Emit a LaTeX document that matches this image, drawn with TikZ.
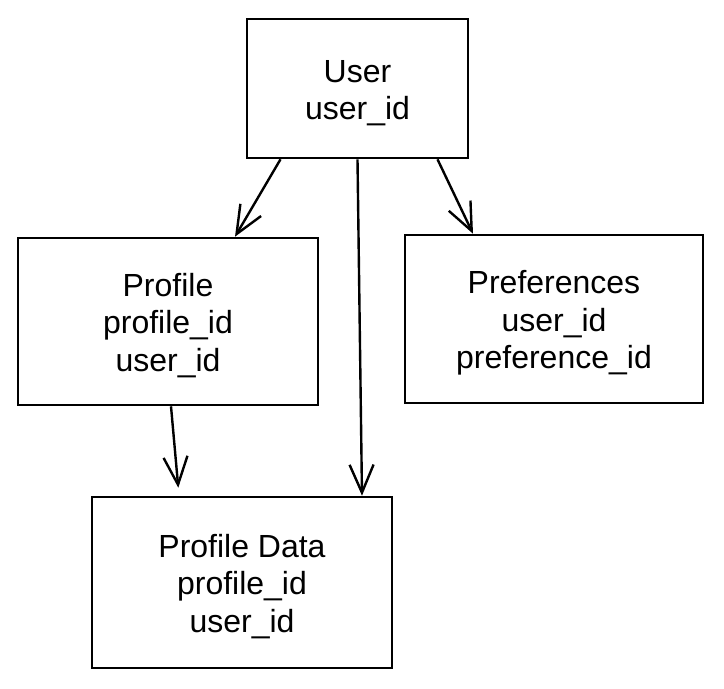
\documentclass[tikz,border=0pt]{standalone}
\usepackage{fontspec}
\setmainfont{Liberation Sans}
\usetikzlibrary{arrows.meta}
\newcommand{\boxstrut}{\rule{0pt}{31pt}}
\tikzstyle{entity} = [draw=black, line width=2.6pt, inner sep=0pt, align=center, font={\fontsize{32}{37.5}\selectfont}]
\tikzstyle{link} = [draw=black, line width=2.4pt, -{Straight Barb[length=28pt,width=24pt]}]

\begin{document}
\begin{tikzpicture}[x=1pt,y=-1pt]
    \useasboundingbox (0,0) rectangle (724,689);
    \node[entity, minimum width=221pt, minimum height=139pt](user) at (357.5,88.5){\boxstrut User\\user\_id};
    \node[entity, minimum width=300pt, minimum height=167pt](profile) at (168,321.5){\boxstrut Profile\\profile\_id\\user\_id};
    \node[entity, minimum width=298pt, minimum height=168pt](prefs) at (554,319){\boxstrut Preferences\\user\_id\\preference\_id};
    \node[entity, minimum width=300pt, minimum height=171pt](pdata) at (242,582.5){\boxstrut Profile Data\\profile\_id\\user\_id};
    \draw[link]([xshift=-77pt]user.south)--([xshift=67pt]profile.north);
    \draw[link]([xshift=80pt]user.south)--([xshift=-81pt]prefs.north);
    \draw[link](user.south)--([xshift=120pt]pdata.north);
    \draw[link,shorten >=8pt]([xshift=3pt]profile.south)--([xshift=-63pt]pdata.north);
  \end{tikzpicture}
\end{document}
